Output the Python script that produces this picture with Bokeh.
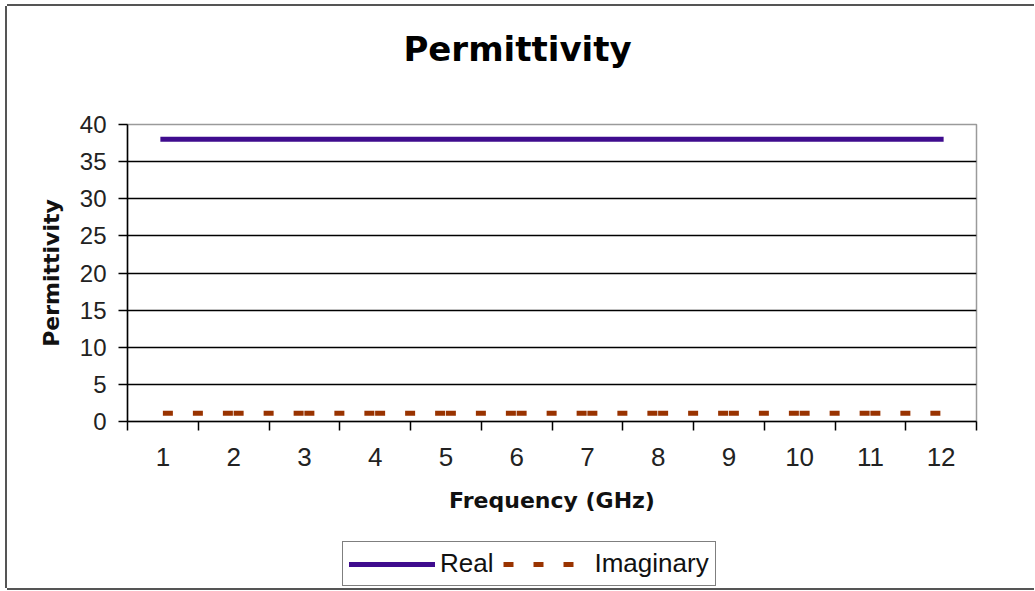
from bokeh.plotting import figure
from bokeh.layouts import column
from bokeh.models import Range1d, FixedTicker, Legend, LegendItem, Label
from bokeh.embed import file_html
from bokeh.resources import INLINE

# ---- data ----
freq = [1, 2, 3, 4, 5, 6, 7, 8, 9, 10, 11, 12]
real_part = [38, 38, 38, 38, 38, 38, 38, 38, 38, 38, 38, 38]
imag_part = [1.1, 1.1, 1.1, 1.1, 1.1, 1.1, 1.1, 1.1, 1.1, 1.1, 1.1, 1.1]
y_ticks = [0, 5, 10, 15, 20, 25, 30, 35, 40]
x_labels = {f: str(f) for f in freq}
series_names = ["Real", "Imaginary"]

TITLE = "Permittivity"
XLABEL = "Frequency (GHz)"
YLABEL = "Permittivity"

REAL_COLOR = "#3f0c8e"
IMAG_COLOR = "#993300"
REAL_STYLE = dict(line_color=REAL_COLOR, line_width=5, line_cap="square")
IMAG_STYLE = dict(line_color=IMAG_COLOR, line_width=5, line_dash="10 20", line_cap="butt")

W = 1027
H_TITLE, H_MAIN, H_LEG = 74, 450, 58
FL, FR, FT = 120, 58, 44
FB = H_MAIN - FT - 297


def strip(height):
    f = figure(width=W, height=height, output_backend="svg", toolbar_location=None,
               title=None, x_axis_location=None, y_axis_location=None,
               x_range=Range1d(100, 101), y_range=Range1d(100, 101),
               min_border_left=FL, min_border_right=FR,
               min_border_top=0, min_border_bottom=0)
    f.grid.visible = False
    f.outline_line_color = None
    f.background_fill_color = "white"
    f.border_fill_color = "white"
    return f


# ---- title strip ----
pt = strip(H_TITLE)
pt.add_layout(Label(x=390, y=32, x_units="screen", y_units="screen", text=TITLE,
                    text_align="center", text_baseline="alphabetic",
                    text_font="DejaVu Sans", text_font_style="bold",
                    text_font_size="34px", text_color="black"))

# ---- main chart ----
p = figure(width=W, height=H_MAIN, output_backend="svg", toolbar_location=None,
           title=None,
           x_range=Range1d(freq[0] - 0.5, freq[-1] + 0.5),
           y_range=Range1d(y_ticks[0], y_ticks[-1]),
           min_border_left=FL, min_border_right=FR,
           min_border_top=FT, min_border_bottom=FB)

p.background_fill_color = "white"
p.border_fill_color = "white"
p.outline_line_color = "#9a9a9a"
p.outline_line_width = 1.5

# grid
p.xgrid.visible = False
p.ygrid.ticker = FixedTicker(ticks=y_ticks[1:-1])
p.ygrid.grid_line_color = "black"
p.ygrid.grid_line_width = 1.5

# y axis
ya = p.yaxis[0]
ya.ticker = FixedTicker(ticks=y_ticks)
ya.axis_line_color = "black"
ya.axis_line_width = 1.5
ya.major_tick_line_color = "black"
ya.major_tick_line_width = 1.5
ya.major_tick_out = 9
ya.major_tick_in = 0
ya.minor_tick_line_color = None
ya.major_label_standoff = 12
ya.major_label_text_font = "Liberation Sans"
ya.major_label_text_font_size = "24px"
ya.major_label_text_color = "#222222"
ya.axis_label = YLABEL
ya.axis_label_text_font = "DejaVu Sans"
ya.axis_label_text_font_style = "bold"
ya.axis_label_text_font_size = "22px"
ya.axis_label_text_color = "#111111"
ya.axis_label_standoff = 13

# x axis (category style: labels at centres, ticks between)
xa = p.xaxis[0]
boundaries = [f - 0.5 for f in freq] + [freq[-1] + 0.5]
xa.ticker = FixedTicker(ticks=freq, minor_ticks=boundaries)
xa.major_label_overrides = x_labels
xa.axis_line_color = "black"
xa.axis_line_width = 1.5
xa.major_tick_line_color = None
xa.major_tick_out = 9
xa.major_tick_in = 0
xa.minor_tick_line_color = "black"
xa.minor_tick_line_width = 1.5
xa.minor_tick_out = 9
xa.minor_tick_in = 0
xa.major_label_standoff = 17
xa.major_label_text_font = "Liberation Sans"
xa.major_label_text_font_size = "26px"
xa.major_label_text_color = "#222222"
xa.axis_label = XLABEL
xa.axis_label_text_font = "DejaVu Sans"
xa.axis_label_text_font_style = "bold"
xa.axis_label_text_font_size = "22px"
xa.axis_label_text_color = "#111111"
xa.axis_label_standoff = 19

# series
p.line(freq, real_part, **REAL_STYLE)
p.segment(x0=freq[:-1], y0=imag_part[:-1], x1=freq[1:], y1=imag_part[1:], **IMAG_STYLE)

# ---- legend strip (same series styles) ----
pl = strip(H_LEG)
lr_real = pl.line(freq, real_part, **REAL_STYLE)
lr_imag = pl.segment(x0=freq[:-1], y0=imag_part[:-1], x1=freq[1:], y1=imag_part[1:], **IMAG_STYLE)

legend = Legend(items=[LegendItem(label=series_names[0], renderers=[lr_real]),
                       LegendItem(label=series_names[1], renderers=[lr_imag])],
                orientation="horizontal", location=(215, 2))
legend.border_line_color = "black"
legend.border_line_width = 1.5
legend.background_fill_color = "white"
legend.background_fill_alpha = 1
legend.label_text_font = "Liberation Sans"
legend.label_text_font_size = "26px"
legend.label_text_color = "#111111"
legend.glyph_width = 86
legend.glyph_height = 30
legend.label_standoff = 5
legend.spacing = 10
legend.padding = 6
legend.margin = 0
pl.add_layout(legend, "center")

layout = column(pt, p, pl, spacing=0)
layout.styles = {"margin-left": "7px", "margin-top": "6px",
                 "box-shadow": "-2px 0 0 0 #555555, 0 -2px 0 0 #555555, 0 2px 0 0 #555555"}

open("out.html", "w").write(file_html(layout, INLINE))
